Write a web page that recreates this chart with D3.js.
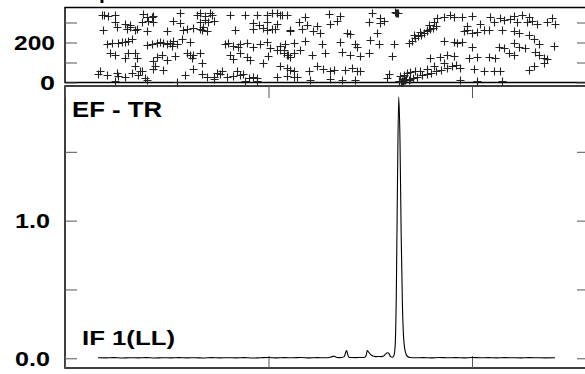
<!DOCTYPE html>
<html><head><meta charset="utf-8">
<script src="https://cdn.jsdelivr.net/npm/d3@7/dist/d3.min.js"></script>
<style>html,body{margin:0;padding:0;background:#fff;} svg{display:block;}</style>
</head><body>
<div id="chart"></div>
<script>
// ---- data (channel, phase in degrees) for the upper scatter panel ----
const phasePoints = [
[18.0,340],[19.2,338],[21.3,332],[24.6,340],[38.5,342],[40.2,330],[42.6,327],[43.4,334],[56.6,345],[64.8,340],[66.4,348],[68.9,332],[71.3,345],[72.1,336],[81.1,338],[88.5,336],[94.3,338],[99.2,340],[101.6,345],[104.1,346],[105.7,340],[109.0,336],
[24.6,300],[29.5,295],[32.0,288],[37.7,300],[41.0,310],[43.4,305],[53.3,306],[56.6,296],[66.4,300],[68.9,312],[70.5,305],[73.0,308],[92.6,296],[95.1,290],[99.2,302],[104.1,292],
[18.9,262],[25.4,280],[30.3,270],[32.0,278],[34.4,260],[35.2,268],[40.2,255],[50.0,258],[58.2,262],[59.8,268],[63.1,275],[66.4,270],[67.2,262],[68.0,280],[69.7,258],[83.6,262],[92.6,268],[97.5,272],[99.2,265],[101.6,268],[103.3,270],[110.7,255],
[20.5,195],[23.0,200],[26.2,198],[27.9,202],[29.5,205],[31.1,210],[32.8,215],[40.2,188],[42.6,195],[45.1,200],[46.7,205],[48.4,198],[50.0,190],[51.6,200],[52.5,185],[53.3,210],[54.9,192],[57.4,215],[61.5,205],[78.7,195],[80.3,200],[82.8,185],[85.2,178],[86.1,190],[89.3,200],[92.6,180],[95.9,195],[99.2,205],[100.8,172],[104.1,165],[105.7,160],[107.4,165],
[22.1,150],[24.6,140],[29.5,125],[31.1,145],[34.4,150],[35.2,120],[43.4,110],[45.1,130],[47.5,140],[50.0,115],[54.1,132],[59.8,150],[61.5,138],[62.3,125],[63.1,140],[66.4,145],[67.2,100],[81.1,140],[82.8,118],[86.1,150],[89.3,128],[91.0,112],[97.5,98],[100.0,135],[109.0,140],[110.7,130],[112.3,145],
[16.4,45],[17.2,60],[20.5,40],[25.4,50],[26.2,35],[29.5,30],[32.8,48],[34.4,80],[36.1,40],[36.9,55],[37.7,60],[39.3,22],[43.4,70],[44.3,85],[48.4,62],[59.0,40],[63.1,70],[67.2,45],[69.7,30],[73.0,28],[74.6,50],[76.2,45],[77.0,55],[79.5,30],[82.8,35],[84.4,55],[86.1,40],[87.7,42],[90.2,25],[92.6,30],[94.3,25],[104.1,28],[109.0,32],[110.7,65],[112.3,28],[113.9,30],
[24.6,8],[40.2,12],[54.9,5],[73.0,18],[88.5,10],[94.3,6],
[106.6,338],[118.0,330],[129.5,342],[135.2,335],[150.8,345],[154.9,320],[162.3,352],[163.1,350],[182.8,320],[186.1,330],[189.3,338],[191.0,326],[195.1,330],[200.0,335],[209.0,330],[213.9,325],[220.5,332],[224.6,340],[227.9,330],[239.3,325],
[114.8,300],[118.9,290],[123.8,285],[130.3,295],[133.6,310],[149.2,305],[154.9,298],[156.6,310],[178.7,290],[181.1,300],[197.5,285],[204.1,292],[210.7,300],[215.6,312],[218.9,318],[222.1,305],[227.0,300],[229.5,308],[232.0,295],[236.9,300],[241.0,295],
[110.7,262],[116.4,270],[122.1,258],[125.4,250],[138.5,250],[140.2,245],[153.3,248],[171.3,240],[174.6,252],[177.9,262],[195.9,255],[197.5,262],[200.0,250],[202.5,252],[205.7,262],[208.2,260],[214.8,265],[220.5,255],[223.0,250],[227.9,240],
[105.7,185],[108.2,195],[112.3,200],[118.0,210],[126.2,190],[135.2,205],[142.6,192],[143.4,180],[150.0,212],[154.1,190],[161.5,192],[186.1,210],[191.0,202],[192.6,200],[195.1,205],[200.0,178],[213.1,180],[215.6,172],[220.5,200],[223.0,178],[226.2,175],[230.3,215],[232.8,190],[240.2,185],
[107.4,150],[109.8,140],[115.6,160],[121.3,138],[127.9,145],[136.1,152],[140.2,140],[145.1,132],[149.2,145],[160.7,135],[179.5,120],[184.4,128],[187.7,140],[191.0,135],[198.4,122],[202.5,130],[208.2,130],[211.5,125],[218.0,150],[220.5,140],[231.1,155],[232.8,140],[235.2,125],[236.9,118],
[105.7,85],[109.0,75],[112.3,60],[119.7,55],[123.8,80],[127.0,70],[130.3,55],[132.0,62],[137.7,65],[141.0,75],[143.4,58],[145.1,60],[159.0,45],[164.8,35],[166.4,40],[168.0,48],[169.7,52],[172.1,55],[174.6,60],[177.9,70],[181.1,82],[186.1,95],[194.3,75],[200.8,68],[205.7,55],[210.7,55],[213.9,58],[227.9,65],[230.3,82],[235.2,95],
[120.5,15],[130.3,18],[136.1,12],[142.6,15],[158.2,22],[163.9,10],[165.6,8],[167.2,12],[168.9,15],[194.3,12],[202.5,10],[214.8,8],
[162.8,348],[163.5,346],[164.2,6],[165.0,4],[166.0,10],[166.8,14],[167.8,18],[169.5,20],[171.0,25],[173.0,30],
[175.5,38],[178.0,45],[180.0,50],[182.5,58],[185.0,65],[187.5,72],[190.0,80],[192.0,88],
[169.0,200],[170.5,210],[172.0,222],[173.5,232],[175.0,240],[176.5,250],[178.0,258],[179.5,268],[181.0,275],[182.5,285]
];

// ---- data (channel, amplitude) for the lower line panel ----
const ampChannels = [16.2,20,24,28,32,36,40,44,48,52,56,60,64,68,72,76,80,84,88,92,96,100,104,108,112,116,120,124,128,130,131.2,132.2,133.2,134.5,136,137.2,138.0,138.4,138.9,139.5,141,143,145,147,148.0,148.5,149.2,150,151,152,153,154,155.5,156.5,157.5,158.5,159.3,160,160.8,161.5,162.2,162.8,163.4,164.0,164.6,165.2,165.8,166.4,167.2,168.2,169.5,172,176,180,184,188,192,196,200,204,208,212,216,220,224,228,232,236,240.8];
const ampValues = [0.004,0.003,0.005,0.002,0.004,0.003,0.005,0.002,0.004,0.003,0.005,0.003,0.004,0.002,0.005,0.003,0.004,0.003,0.005,0.002,0.004,0.006,0.003,0.005,0.004,0.006,0.003,0.005,0.004,0.006,0.012,0.016,0.008,0.005,0.006,0.012,0.045,0.056,0.03,0.008,0.006,0.005,0.006,0.006,0.02,0.056,0.045,0.03,0.018,0.014,0.012,0.013,0.012,0.016,0.03,0.04,0.032,0.012,0.008,0.015,0.08,0.45,1.3,1.90,1.6,0.9,0.4,0.15,0.05,0.015,0.006,0.004,0.005,0.003,0.006,0.004,0.005,0.003,0.006,0.004,0.005,0.003,0.005,0.004,0.003,0.005,0.004,0.003,0.004];

// ---- ticks and labels ----
const xTicks = [0, 100, 200];
const topTicks = [0, 100, 200, 300];
const topTickLabels = {0: "0", 200: "200"};
const botTicks = [0, 0.5, 1.0, 1.5];
const botTickLabels = {0: "0.0", 1: "1.0"};
const titleTop = "EF - TR";
const titleBottom = "IF 1(LL)";

const W = 585, H = 374;
const svg = d3.select("#chart").append("svg").attr("width", W).attr("height", H);

const x = d3.scaleLinear().domain([0, 257.5]).range([65, 589]);
const yTop = d3.scaleLinear().domain([0, 375]).range([82.5, 7.5]);
const yBot = d3.scaleLinear().domain([-0.0705, 1.978]).range([368, 86]);

const font = "'Liberation Sans', Arial, Helvetica, sans-serif";

// partial title glyph cut off at top (as in the reference)
svg.append("text").attr("x", 99).attr("y", -1).attr("font-family", font)
  .attr("font-weight", "bold").attr("font-size", 21).text("p");

// frames
const frame = svg.append("g").attr("fill", "none").attr("stroke", "#000").attr("stroke-width", 1.5);
frame.append("rect").attr("x", x(0)).attr("y", yTop.range()[1]).attr("width", x.range()[1] - x(0)).attr("height", yTop.range()[0] - yTop.range()[1]);
frame.append("rect").attr("x", x(0)).attr("y", yBot.range()[1]).attr("width", x.range()[1] - x(0)).attr("height", yBot.range()[0] - yBot.range()[1]);

function styleAxis(g) {
  g.select(".domain").remove();
  g.selectAll(".tick line").attr("stroke", "#555").attr("stroke-width", 1);
  g.selectAll(".tick text").attr("font-family", font).attr("font-weight", "bold")
    .attr("font-size", 21).attr("fill", "#000");
}

// top panel axes
const gTL = svg.append("g").attr("transform", `translate(${x(0)},0)`)
  .call(d3.axisLeft(yTop).tickValues(topTicks).tickSizeInner(-12).tickSizeOuter(0).tickPadding(10)
    .tickFormat(d => topTickLabels[d] || ""));
styleAxis(gTL);
gTL.selectAll(".tick text").each(function(d){ const t = topTickLabels[d]; if (t) d3.select(this).attr("textLength", t.length === 1 ? 15 : 41).attr("lengthAdjust", "spacingAndGlyphs"); });
const gTR = svg.append("g").attr("transform", `translate(${x.range()[1]},0)`)
  .call(d3.axisRight(yTop).tickValues(topTicks).tickSizeInner(-12).tickSizeOuter(0).tickFormat(""));
styleAxis(gTR);

// bottom panel axes
const gBL = svg.append("g").attr("transform", `translate(${x(0)},0)`)
  .call(d3.axisLeft(yBot).tickValues(botTicks).tickSizeInner(-12).tickSizeOuter(0).tickPadding(15)
    .tickFormat(d => botTickLabels[d] || ""));
styleAxis(gBL);
gBL.selectAll(".tick text").each(function(d){ if (botTickLabels[d]) d3.select(this).attr("textLength", 35).attr("lengthAdjust", "spacingAndGlyphs"); });
const gBR = svg.append("g").attr("transform", `translate(${x.range()[1]},0)`)
  .call(d3.axisRight(yBot).tickValues(botTicks).tickSizeInner(-12).tickSizeOuter(0).tickFormat(""));
styleAxis(gBR);
const gBT = svg.append("g").attr("transform", `translate(0,${yBot.range()[1]})`)
  .call(d3.axisTop(x).tickValues(xTicks).tickSizeInner(-12).tickSizeOuter(0).tickFormat(""));
styleAxis(gBT);
const gBB = svg.append("g").attr("transform", `translate(0,${yBot.range()[0]})`)
  .call(d3.axisBottom(x).tickValues(xTicks).tickSizeInner(-12).tickSizeOuter(0).tickFormat(""));
styleAxis(gBB);

// scatter markers (+)
const s = 4;
svg.append("g").attr("stroke", "#222").attr("stroke-width", 1.1).attr("fill", "none")
  .selectAll("path").data(phasePoints).join("path")
  .attr("d", d => {
    const cx = Math.round(x(d[0])) + 0.5, cy = Math.round(yTop(d[1])) + 0.5;
    return `M${cx - s},${cy}H${cx + s}M${cx},${cy - s}V${cy + s}`;
  });

// amplitude line
const ampData = ampChannels.map((c, i) => [c, ampValues[i]]);
svg.append("path").datum(ampData)
  .attr("fill", "none").attr("stroke", "#000").attr("stroke-width", 1.1)
  .attr("d", d3.line().x(d => x(d[0])).y(d => yBot(d[1])).curve(d3.curveMonotoneX));

// panel labels
svg.append("text").attr("x", 72).attr("y", 117).attr("font-family", font).attr("font-weight", "bold")
  .attr("font-size", 22).attr("textLength", 90).attr("lengthAdjust", "spacingAndGlyphs").text(titleTop);
svg.append("text").attr("x", 82).attr("y", 345).attr("font-family", font).attr("font-weight", "bold")
  .attr("font-size", 21).attr("textLength", 93).attr("lengthAdjust", "spacingAndGlyphs").text(titleBottom);
</script>
</body></html>
